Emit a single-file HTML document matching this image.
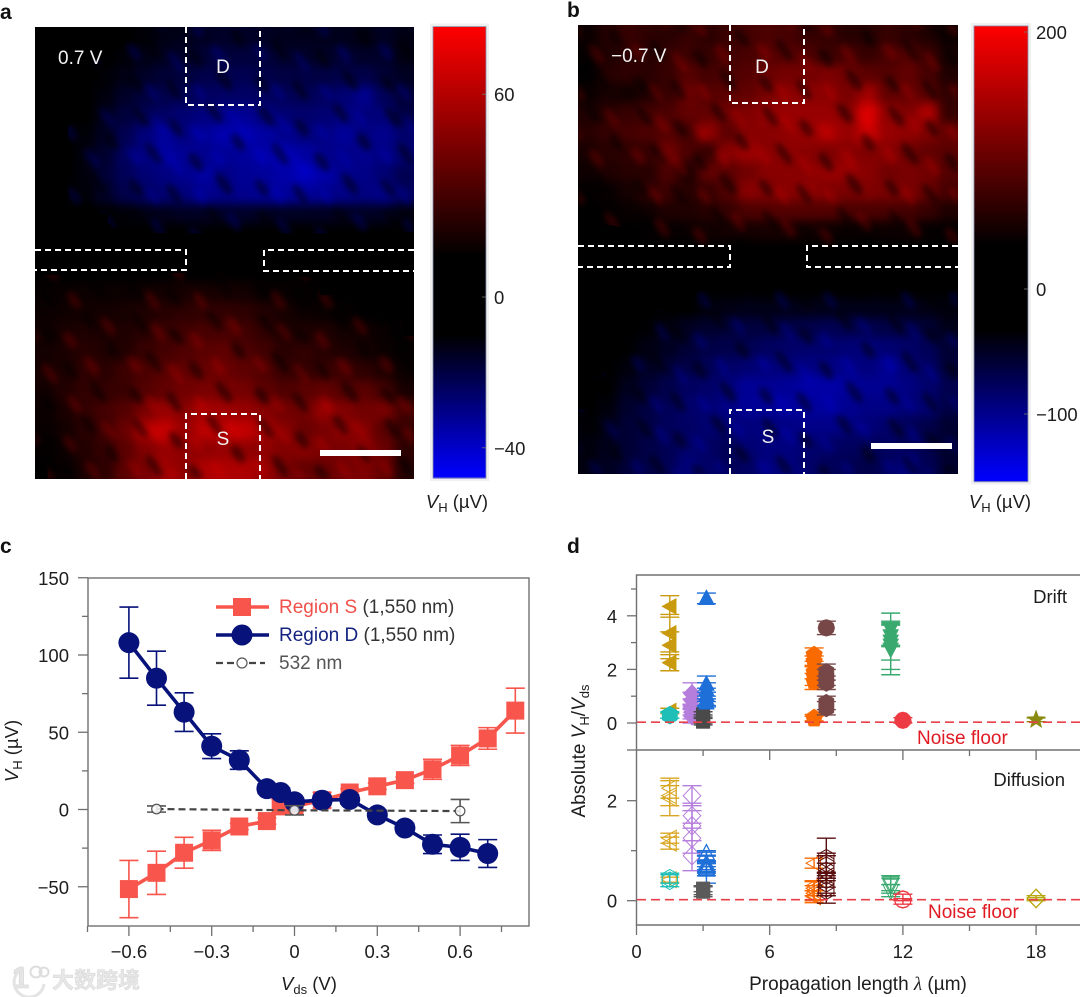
<!DOCTYPE html>
<html lang="en">
<head>
<meta charset="utf-8">
<title>Hall voltage maps and propagation length</title>
<style>
html,body{margin:0;padding:0;background:#fff;}
svg{display:block;font-family:"Liberation Sans","Noto Sans CJK SC",sans-serif;}
.tick{font-size:18.5px;fill:#1d1d1d;}
.ax{font-size:18.5px;fill:#1d1d1d;}
.letter{font-size:21px;font-weight:bold;fill:#111;}
.ov{font-size:19px;fill:#f2f2f2;}
.box{fill:none;stroke:#fff;stroke-width:2;stroke-dasharray:6 4;}
.frame{fill:none;stroke:#707070;stroke-width:1.4;}
</style>
</head>
<body>
<svg id="fig" xmlns="http://www.w3.org/2000/svg" width="1080" height="997" viewBox="0 0 1080 997">
<defs>
  <filter id="soft" x="-10%" y="-10%" width="120%" height="120%" color-interpolation-filters="sRGB"><feGaussianBlur stdDeviation="5"/></filter>
  <filter id="soft2" x="0" y="0" width="100%" height="100%" color-interpolation-filters="sRGB"><feGaussianBlur stdDeviation="3"/></filter>
  <clipPath id="clipA"><rect x="35" y="27" width="379" height="452"/></clipPath>
  <clipPath id="clipB"><rect x="578" y="25" width="380" height="449"/></clipPath>
  <pattern id="speckle" width="126" height="104" patternUnits="userSpaceOnUse">
    <g fill="#000" fill-opacity=".45">
      <ellipse cx="14" cy="12" rx="12" ry="4.5" transform="rotate(55 14 12)"/>
      <ellipse cx="50" cy="24" rx="10" ry="4.5" transform="rotate(55 50 24)"/>
      <ellipse cx="88" cy="8" rx="13" ry="4.5" transform="rotate(55 88 8)"/>
      <ellipse cx="112" cy="38" rx="10" ry="5" transform="rotate(55 112 38)"/>
      <ellipse cx="28" cy="50" rx="13" ry="4.5" transform="rotate(55 28 50)"/>
      <ellipse cx="70" cy="58" rx="11" ry="5" transform="rotate(55 70 58)"/>
      <ellipse cx="10" cy="84" rx="10" ry="4.5" transform="rotate(55 10 84)"/>
      <ellipse cx="48" cy="90" rx="12" ry="4.5" transform="rotate(55 48 90)"/>
      <ellipse cx="98" cy="80" rx="13" ry="5" transform="rotate(55 98 80)"/>
    </g>
  </pattern>
  <pattern id="glint" width="126" height="104" patternUnits="userSpaceOnUse">
    <g fill="#fff" fill-opacity=".16">
      <ellipse cx="32" cy="20" rx="11" ry="4.5" transform="rotate(55 32 20)"/>
      <ellipse cx="70" cy="28" rx="10" ry="5" transform="rotate(55 70 28)"/>
      <ellipse cx="108" cy="14" rx="11" ry="4.5" transform="rotate(55 108 14)"/>
      <ellipse cx="8" cy="52" rx="10" ry="5" transform="rotate(55 8 52)"/>
      <ellipse cx="50" cy="62" rx="12" ry="4.5" transform="rotate(55 50 62)"/>
      <ellipse cx="92" cy="54" rx="11" ry="5" transform="rotate(55 92 54)"/>
      <ellipse cx="26" cy="92" rx="11" ry="4.5" transform="rotate(55 26 92)"/>
      <ellipse cx="74" cy="92" rx="10" ry="4.5" transform="rotate(55 74 92)"/>
    </g>
  </pattern>
</defs>
<rect width="1080" height="997" fill="#fff"/>

<text class="letter" x="0" y="19">a</text>
<text class="letter" x="567" y="17">b</text>
<text class="letter" x="0" y="553">c</text>
<text class="letter" x="567" y="553">d</text>

<g id="panelA" clip-path="url(#clipA)">
  <rect x="35" y="27" width="379" height="452" fill="#000"/>
  <g id="cellsA" filter="url(#soft)"></g>
  <rect x="35" y="27" width="379" height="452" fill="url(#glint)" filter="url(#soft2)" style="mix-blend-mode:color-dodge"/>
  <rect x="35" y="27" width="379" height="452" fill="url(#speckle)" filter="url(#soft2)"/>
</g>
<g>
  <path class="box" d="M186 27V105H260V27"/>
  <path class="box" d="M186 479V414H260V479"/>
  <path class="box" d="M35 250H186V270H35"/>
  <path class="box" d="M414 250H264V271H414"/>
  <rect x="320" y="450" width="81" height="6" fill="#fff"/>
  <text class="ov" x="58" y="64">0.7 V</text>
  <text class="ov" x="223" y="73" text-anchor="middle">D</text>
  <text class="ov" x="223" y="445" text-anchor="middle">S</text>
</g>
<g id="cbA"></g>
<text class="ax" x="457" y="508" text-anchor="middle"><tspan font-style="italic">V</tspan><tspan font-size="13" dy="4">H</tspan><tspan dy="-4"> (µV)</tspan></text>

<g id="panelB" clip-path="url(#clipB)">
  <rect x="578" y="25" width="380" height="449" fill="#000"/>
  <g id="cellsB" filter="url(#soft)"></g>
  <rect x="578" y="25" width="380" height="449" fill="url(#glint)" filter="url(#soft2)" style="mix-blend-mode:color-dodge"/>
  <rect x="578" y="25" width="380" height="449" fill="url(#speckle)" filter="url(#soft2)"/>
</g>
<g>
  <path class="box" d="M730 25V103H804V25"/>
  <path class="box" d="M730 474V410H804V474"/>
  <path class="box" d="M578 246H730V267H578"/>
  <path class="box" d="M958 246H807V267H958"/>
  <rect x="871" y="443" width="81" height="6" fill="#fff"/>
  <text class="ov" x="611" y="62">−0.7 V</text>
  <text class="ov" x="762" y="73" text-anchor="middle">D</text>
  <text class="ov" x="768" y="443" text-anchor="middle">S</text>
</g>
<g id="cbB"></g>
<text class="ax" x="1000" y="508" text-anchor="middle"><tspan font-style="italic">V</tspan><tspan font-size="13" dy="4">H</tspan><tspan dy="-4"> (µV)</tspan></text>

<g id="chartC">
  <rect class="frame" x="88" y="578" width="441" height="348"/>
  <g id="cAxes"></g>
  <g id="cSeries"></g>
  <g>
    <g>
      <line x1="216" y1="607" x2="269" y2="607" stroke="#f8564c" stroke-width="3.4"/>
      <rect x="233" y="598" width="18" height="18" fill="#f8564c"/>
      <text x="279" y="613" font-size="19" fill="#f0514a">Region S <tspan fill="#333">(1,550 nm)</tspan></text>
    </g>
    <g>
      <line x1="216" y1="635" x2="269" y2="635" stroke="#07127a" stroke-width="3.4"/>
      <circle cx="242" cy="635" r="10.5" fill="#07127a"/>
      <text x="279" y="641" font-size="19" fill="#14237f">Region D <tspan fill="#333">(1,550 nm)</tspan></text>
    </g>
    <g>
      <line x1="216" y1="663" x2="265" y2="663" stroke="#444" stroke-width="2.2" stroke-dasharray="7 4"/>
      <circle cx="242" cy="663" r="5" fill="#fff" stroke="#555" stroke-width="1.2"/>
      <text x="279" y="669" font-size="19" fill="#555">532 nm</text>
    </g>
  </g>
  <text class="ax" x="309" y="990" text-anchor="middle"><tspan font-style="italic">V</tspan><tspan font-size="13" dy="4">ds</tspan><tspan dy="-4"> (V)</tspan></text>
  <text class="ax" transform="translate(18 751) rotate(-90)" text-anchor="middle"><tspan font-style="italic">V</tspan><tspan font-size="13" dy="4">H</tspan><tspan dy="-4"> (µV)</tspan></text>
</g>

<g id="chartD">
  <g id="dSeries"></g>
  <path class="frame" d="M1080 575H636.5V925H1080M636.5 750H1080"/>
  <g id="dAxes"></g>
  <text class="ax" x="1067" y="603" text-anchor="end">Drift</text>
  <text class="ax" x="1065" y="786" text-anchor="end">Diffusion</text>
  <text x="917" y="744" font-size="19" fill="#e01a22">Noise floor</text>
  <text x="928" y="918" font-size="19" fill="#e01a22">Noise floor</text>
  <text x="858" y="990" text-anchor="middle" font-size="19" fill="#1d1d1d">Propagation length <tspan font-style="italic" font-family="Liberation Serif">λ</tspan> (µm)</text>
  <text transform="translate(585 751) rotate(-90)" text-anchor="middle" font-size="19" fill="#1d1d1d">Absolute <tspan font-style="italic">V</tspan><tspan font-size="13" dy="4">H</tspan><tspan dy="-4">/</tspan><tspan font-style="italic">V</tspan><tspan font-size="13" dy="4">ds</tspan></text>
</g>

<g opacity=".95">
  <text x="12" y="988" font-size="31" font-weight="bold" fill="#e4e4e4" stroke="#d2d2d2" stroke-width=".6">1</text>
  <circle cx="36" cy="972" r="5.5" fill="none" stroke="#dcdcdc" stroke-width="2"/>
  <circle cx="44" cy="972" r="4.5" fill="none" stroke="#dcdcdc" stroke-width="2"/>
  <path d="M24 968A15 15 0 1 0 44 984" fill="none" stroke="#e2e2e2" stroke-width="3"/>
  <text x="52" y="988" font-size="22" font-weight="bold" fill="#e6e6e6" stroke="#d4d4d4" stroke-width=".5">大数跨境</text>
</g>
</svg>

<script>
/* ---------- Panel a: Hall voltage map values (µV), rows top→bottom ---------- */
const heatA = [
[0,0,0,0,0,-11,-13,-14,-15,-16,-16,-15,-14,-14,-14,-14,-13,-15,-13],
[0,0,0,-10,-11,-13,-15,-16,-18,-19,-19,-18,-17,-16,-16,-17,-16,-16,-13],
[0,0,0,-11,-13,-16,-18,-19,-21,-22,-22,-21,-20,-20,-20,-21,-21,-18,-15],
[0,0,-10,-12,-16,-19,-21,-23,-24,-25,-25,-24,-23,-23,-24,-27,-31,-23,-18],
[0,0,-10,-14,-19,-23,-25,-27,-29,-31,-32,-29,-27,-26,-27,-29,-28,-28,-20],
[0,0,-11,-15,-22,-28,-33,-29,-33,-36,-37,-34,-31,-29,-29,-33,-29,-31,-26],
[0,-10,-12,-17,-24,-29,-34,-32,-31,-32,-33,-35,-37,-34,-31,-30,-31,-29,-27],
[0,-10,-12,-18,-23,-27,-29,-31,-34,-30,-32,-33,-35,-38,-35,-31,-30,-27,-22],
[0,0,-11,-16,-21,-24,-27,-28,-31,-30,-31,-32,-33,-33,-31,-30,-29,-30,-24],
[0,0,0,-10,-11,-13,-14,-15,-15,-16,-16,-15,-15,-15,-15,-15,-15,-15,-12],
[0,0,0,0,0,0,0,0,0,0,0,0,0,0,0,0,0,0,0],
[0,0,0,0,0,0,0,0,0,0,0,0,0,0,0,0,0,0,0],
[0,0,0,0,0,0,0,0,0,0,0,0,0,0,0,0,0,0,0],
[14,14,15,15,15,16,17,18,18,18,17,14,14,13,12,12,12,12,12],
[15,16,17,17,18,20,22,24,25,25,24,21,18,15,14,13,12,12,12],
[16,18,20,19,20,23,27,29,31,31,29,25,19,20,20,17,16,14,12],
[17,19,22,21,21,27,30,33,36,37,33,29,23,25,22,20,18,15,13],
[18,20,24,23,28,32,36,38,40,40,37,33,27,25,28,28,24,20,15],
[17,21,25,26,27,34,38,42,44,45,43,37,33,36,38,34,36,30,18],
[15,19,25,30,34,44,52,49,56,54,52,48,42,42,52,46,42,44,30],
[14,17,23,28,40,60,64,52,62,62,64,56,48,40,44,50,46,36,26],
[13,15,21,26,36,46,52,50,50,52,50,50,46,48,44,44,50,40,24],
[12,14,19,24,36,44,54,50,58,58,58,52,44,38,40,42,46,38,22]
];
/* ---------- Panel b: Hall voltage map values (µV), rows top→bottom ---------- */
const heatB = [
[42,58,70,65,60,70,62,72,80,85,80,70,68,60,60,70,62,55,40],
[38,55,62,60,70,74,70,76,82,90,92,85,75,78,70,80,90,72,50],
[35,60,65,62,70,90,80,85,90,105,112,110,118,110,95,90,100,80,55],
[40,50,45,55,70,105,90,95,100,115,125,130,125,115,140,100,100,95,65],
[55,60,70,80,85,100,100,110,120,135,135,135,135,125,180,130,120,150,70],
[60,70,80,85,90,80,130,95,125,125,130,135,150,135,170,135,130,120,100],
[50,60,65,70,110,85,70,125,140,125,130,125,120,125,120,125,110,100,95],
[45,55,60,60,85,55,100,95,110,125,125,125,135,135,125,110,115,110,90],
[35,40,48,65,75,60,70,90,125,120,125,130,120,115,120,115,115,105,80],
[35,36,40,45,55,55,60,70,85,90,90,90,90,85,85,85,80,70,55],
[0,0,0,36,40,42,45,48,48,50,50,48,42,40,40,42,45,40,36],
[0,0,0,0,0,0,0,0,0,0,0,0,0,0,0,0,0,0,0],
[0,0,0,0,0,0,0,0,0,0,0,0,0,0,0,0,0,0,0],
[0,0,0,0,0,0,0,0,0,0,0,0,0,0,0,0,0,0,0],
[0,0,0,0,0,-33,-38,-42,-44,-44,-44,-44,-44,-44,-44,-44,-44,-42,-38],
[0,0,0,-36,-40,-48,-54,-60,-62,-64,-66,-68,-72,-70,-68,-66,-64,-58,-44],
[0,0,-34,-42,-48,-58,-66,-68,-72,-78,-82,-84,-84,-88,-92,-86,-82,-74,-56],
[0,0,-38,-48,-58,-66,-74,-80,-86,-90,-92,-94,-96,-96,-92,-102,-88,-80,-62],
[0,-34,-46,-58,-68,-78,-82,-92,-104,-102,-104,-112,-112,-108,-102,-102,-94,-84,-70],
[0,-38,-54,-64,-74,-84,-86,-96,-104,-104,-108,-108,-108,-102,-96,-96,-88,-88,-66],
[-36,-44,-58,-66,-76,-80,-86,-88,-92,-94,-96,-98,-98,-94,-90,-84,-76,-68,-56],
[-38,-46,-58,-66,-72,-82,-80,-74,-88,-92,-92,-88,-82,-78,-76,-78,-76,-68,-52],
[-40,-48,-60,-66,-74,-90,-82,-74,-80,-92,-92,-82,-76,-72,-68,-76,-94,-72,-56]
];
const cbATicks = [60, 0, -40];
const cbBTicks = [200, 0, -100];

/* ---------- Panel c data ---------- */
const cYTicks = [150, 100, 50, 0, -50];
const cYMinor = [125, 75, 25, -25];
const cXTicks = [-0.6, -0.3, 0, 0.3, 0.6];
const cXMinor = [-0.75, -0.45, -0.15, 0.15, 0.45, 0.75];
const sX = [-0.6,-0.5,-0.4,-0.3,-0.2,-0.1,-0.05,0,0.1,0.2,0.3,0.4,0.5,0.6,0.7,0.8];
const sY = [-51.5,-41,-28,-20,-11,-7.5,2,2,6,11,15,19,26,35,46,64];
const sErr = [18.5,14,10,6.5,2,2,5,3,5,2.5,2,2,6.5,6.5,7,14.5];
const dX = [-0.6,-0.5,-0.4,-0.3,-0.2,-0.1,-0.05,0,0.1,0.2,0.3,0.4,0.5,0.6,0.7];
const dY = [108,85,63,41,32,13.5,11,5,6,6.5,-3.5,-12,-22.5,-24.5,-28.5];
const dErr = [23,17.5,12.5,8,6,3,3,2,3,3,3,3,6,8.5,9];
const gX = [-0.5,0,0.6];
const gY = [0.3,-0.5,-1];
const gErr = [2,3,7.5];

/* ---------- Panel d data ---------- */
const dTicksX = [0, 6, 12, 18];
const dMinorX = [3, 9, 15];
const driftTicks = [4, 2, 0];
const driftMinor = [5, 3, 1];
const diffTicks = [2, 0];
const diffMinor = [1];
const noiseFloorDrift = 0.03;
const noiseFloorDiff = 0.02;

const driftGoldY = [4.35,3.35,2.9,2.25,0.45];
const driftGoldErr = [0.4,0.7,0.5,0.3,0.1];
const driftTealY = [0.3,0.28];
const driftTealErr = [0.12,0.1];
const driftPurpleY = [1.1,0.85,0.6,0.4,0.25];
const driftPurpleErr = [0.4,0.3,0.3,0.25,0.25];
const driftBlueY = [4.65,1.45,1.25,1.05,0.9,0.75];
const driftBlueErr = [0.2,0.3,0.25,0.25,0.25,0.15];
const driftGrayY = [0.32,0.15,0.05];
const driftGrayErr = [0.1,0.15,0.12];
const driftOrangeY = [2.55,2.3,1.9,1.75,1.55,0.2,0.15];
const driftOrangeErr = [0.25,0.2,0.25,0.35,0.3,0.12,0.1];
const driftBrownCircleY = [3.55];
const driftBrownCircleErr = [0.25];
const driftBrownY = [1.9,1.7,1.5,0.75,0.55];
const driftBrownErr = [0.3,0.3,0.25,0.25,0.25];
const driftGreenY = [3.5,3.25,3.05,2.9,2.75];
const driftGreenErr = [0.6,0.4,0.7,0.9,0.95];
const driftRedY = [0.1];
const driftRedErr = [0.1];
const driftOliveY = [0.12];
const driftOliveErr = [0.07];

const diffGoldY = [2.25,2.1,2.05,1.25,1.15,0.42];
const diffGoldErr = [0.2,0.2,0.35,0.1,0.12,0.05];
const diffTealY = [0.45,0.4];
const diffTealErr = [0.1,0.12];
const diffPurpleY = [2.1,1.7,1.5,1.25,0.9];
const diffPurpleErr = [0.2,0.25,0.3,0.3,0.3];
const diffBlueY = [0.95,0.94,0.74,0.7,0.68,0.65,0.62,0.62];
const diffBlueErr = [0.05,0.03,0.06,0.08,0.1,0.1,0.12,0.27];
const diffGrayY = [0.24,0.2,0.18];
const diffGrayErr = [0.06,0.08,0.1];
const diffOrangeY = [0.75,0.3,0.25,0.2,0.15,0.1,0.08];
const diffOrangeErr = [0.1,0.1,0.15,0.18,0.15,0.1,0.12];
const diffDarkRedY = [0.85,0.75,0.7,0.6,0.5,0.42,0.35,0.25,0.2];
const diffDarkRedErr = [0.4,0.2,0.2,0.15,0.4,0.15,0.2,0.15,0.25];
const diffGreenY = [0.35,0.3,0.2];
const diffGreenErr = [0.15,0.15,0.12];
const diffRedY = [0.03,0.02];
const diffRedErr = [0.1,0.02];
const diffOliveY = [0.05,0.04];
const diffOliveErr = [0.05,0.02];

const NS = 'http://www.w3.org/2000/svg';
function el(parent, tag, attrs, txt){
  const e = document.createElementNS(NS, tag);
  for (const k in attrs) e.setAttribute(k, attrs[k]);
  if (txt !== undefined) e.textContent = txt;
  parent.appendChild(e);
  return e;
}
function fmt(v, d){ const s = Math.abs(v).toFixed(d); return (v < 0 ? '\u2212' : '') + s; }

/* ---------- heatmaps & colorbars ---------- */
function colorMap(v, hi0, hi1, lo0, lo1){
  if (v > hi0) return 'rgb(' + Math.round(255*Math.min(1,(v-hi0)/(hi1-hi0))) + ',0,0)';
  if (v < lo0) return 'rgb(0,0,' + Math.round(255*Math.min(1,(lo0-v)/(lo0-lo1))) + ')';
  return '#000';
}
const colorA = v => colorMap(v, 12, 80, -10, -48);
const colorB = v => colorMap(v, 34, 205, -33, -154);

function drawHeat(id, grid, x0, y0, w, h, color, label){
  const g = document.getElementById(id);
  const rows = grid.length, cols = grid[0].length;
  const cw = w/cols, ch = h/rows;
  grid.forEach((row, j) => row.forEach((v, i) => {
    const pad = 24;
    const x = x0 + i*cw - (i === 0 ? pad : 0);
    const y = y0 + j*ch - (j === 0 ? pad : 0);
    const rw = cw + 0.5 + (i === 0 ? pad : 0) + (i === cols-1 ? pad : 0);
    const rh = ch + 0.5 + (j === 0 ? pad : 0) + (j === rows-1 ? pad : 0);
    const c = el(g, 'rect', {x: x, y: y, width: rw, height: rh, fill: color(v)});
    
    
  }));
}
drawHeat('cellsA', heatA, 35, 27, 379, 452, colorA, 'heatmap-a-cell');
drawHeat('cellsB', heatB, 578, 25, 380, 449, colorB, 'heatmap-b-cell');

const cbAxisA = v => 297 - v*(v >= 0 ? 3.38 : 3.77);
const cbAxisB = v => 289 - v*(v >= 0 ? 1.285 : 1.25);

function drawColorbar(id, x, w, vTop, vBot, axis, color, ticks, labelX, tag){
  const g = document.getElementById(id);
  const yT = axis(vTop), yB = axis(vBot);
  const halo = el(g, 'rect', {x: x-3, y: yT-3, width: w+6, height: yB-yT+6, fill: '#f0f0f0'});
  
  
  const steps = 230;
  for (let k = 0; k < steps; k++){
    const v0 = vTop + (vBot-vTop)*k/steps, v1 = vTop + (vBot-vTop)*(k+1)/steps;
    const r = el(g, 'rect', {x: x, y: axis(v0), width: w, height: axis(v1)-axis(v0)+0.6, fill: color((v0+v1)/2)});
    
    
  }
  const border = el(g, 'rect', {x: x, y: yT, width: w, height: yB-yT, fill: 'none', stroke: '#8a90aa', 'stroke-width': 0.8});
  
  
  ticks.forEach(t => {
    const y = axis(t);
    const tk = el(g, 'line', {x1: x+w-4, x2: x+w, y1: y, y2: y, stroke: '#777', 'stroke-width': 0.8});
    
    
    const lb = el(g, 'text', {x: labelX, y: y+7, 'class': 'tick'}, fmt(t, 0));
    
    
  });
}
drawColorbar('cbA', 433, 53, 80, -48, cbAxisA, colorA, cbATicks, 494, 'colorbar-a');
drawColorbar('cbB', 974, 54, 204.7, -154, cbAxisB, colorB, cbBTicks, 1036, 'colorbar-b');

/* ---------- chart c ---------- */
const cx = v => 294.5 + v*276;
const cy = v => 809.5 - v*1.545;
(function(){
  const ax = document.getElementById('cAxes');
  const tick = (a, name) => {
    const l = el(ax, 'line', Object.assign({stroke: '#707070', 'stroke-width': 1.3}, a));
    
    
  };
  cYTicks.forEach(v => {
    tick({x1: 78, x2: 88, y1: cy(v), y2: cy(v)}, 'y-tick-c');
    const t = el(ax, 'text', {x: 69, y: cy(v)+7, 'text-anchor': 'end', 'class': 'tick'}, fmt(v, 0));
    
    
  });
  cYMinor.forEach(v => tick({x1: 82, x2: 88, y1: cy(v), y2: cy(v)}, 'y-minor-tick-c'));
  cXTicks.forEach(v => {
    tick({x1: cx(v), x2: cx(v), y1: 926, y2: 936}, 'x-tick-c');
    const t = el(ax, 'text', {x: cx(v), y: 958, 'text-anchor': 'middle', 'class': 'tick'}, v === 0 ? '0' : fmt(v, 1));
    
    
  });
  cXMinor.forEach(v => tick({x1: cx(v), x2: cx(v), y1: 926, y2: 932}, 'x-minor-tick-c'));

  const ser = document.getElementById('cSeries');
  function series(xs, ys, errs, color, kind, name){
    const g = el(ser, 'g', {});
    
    
    xs.forEach((x, i) => {
      const px = cx(x), up = cy(ys[i]+errs[i]), dn = cy(ys[i]-errs[i]);
      const e = el(g, 'path', {d: `M${px-9.5} ${up}H${px+9.5}M${px} ${up}V${dn}M${px-9.5} ${dn}H${px+9.5}`, fill: 'none', stroke: kind === 'open' ? '#555' : color, 'stroke-width': 1.6});
      
      
    });
    const line = el(g, 'polyline', {points: xs.map((x, i) => cx(x) + ',' + cy(ys[i])).join(' '), fill: 'none', stroke: color, 'stroke-width': kind === 'open' ? 2.2 : 3.6, 'stroke-dasharray': kind === 'open' ? '7 4' : 'none'});
    
    
    xs.forEach((x, i) => {
      const px = cx(x), py = cy(ys[i]);
      let m;
      if (kind === 'square') m = el(g, 'rect', {x: px-9, y: py-9, width: 18, height: 18, fill: color});
      else if (kind === 'circle') m = el(g, 'circle', {cx: px, cy: py, r: 10.5, fill: color});
      else m = el(g, 'circle', {cx: px, cy: py, r: 4.8, fill: '#fff', 'fill-opacity': .85, stroke: '#555', 'stroke-width': 1.2});
      
      
    });
  }
  series(sX, sY, sErr, '#f8564c', 'square', 'region-s');
  series(dX, dY, dErr, '#07127a', 'circle', 'region-d');
  series(gX, gY, gErr, '#444444', 'open', '532-nm');
})();

/* ---------- chart d ---------- */
const dx = v => 636.5 + v*22.2;
const dyTop = v => 723 - v*26.8;
const dyBot = v => 900.7 - v*50;

function poly(px, py, r, pts){
  return pts.map(p => (px + p[0]*r).toFixed(2) + ',' + (py + p[1]*r).toFixed(2)).join(' ');
}
function regular(n, rot){
  const a = [];
  for (let i = 0; i < n; i++){
    const t = rot + i*2*Math.PI/n;
    a.push([Math.cos(t), Math.sin(t)]);
  }
  return a;
}
const shapes = {
  left: [[-1,0],[0.8,-1],[0.8,1]],
  up: [[0,-1.1],[1,0.8],[-1,0.8]],
  down: [[0,1.1],[1,-0.8],[-1,-0.8]],
  diamond: [[0,-1.15],[1.1,0],[0,1.15],[-1.1,0]],
  square: [[-0.85,-0.85],[0.85,-0.85],[0.85,0.85],[-0.85,0.85]],
  pent: regular(5, -Math.PI/2).map(p => [p[0]*1.1, p[1]*1.1]),
  hex: regular(6, -Math.PI/2).map(p => [p[0]*1.1, p[1]*1.1]),
  octo: regular(12, 0).map(p => [p[0]*1.05, p[1]*1.05]),
  star: regular(5, -Math.PI/2).reduce((acc, p, i) => {
    acc.push([p[0]*1.2, p[1]*1.2]);
    const t = -Math.PI/2 + Math.PI/5 + i*2*Math.PI/5;
    acc.push([Math.cos(t)*0.5, Math.sin(t)*0.5]);
    return acc;
  }, [])
};

function drawD(x, ys, errs, shape, color, filled, axis, name){
  const root = document.getElementById('dSeries');
  const g = el(root, 'g', {});
  
  
  const px = dx(x);
  ys.forEach((y, i) => {
    const up = axis(y+errs[i]), dn = axis(y-errs[i]), py = axis(y);
    const e = el(g, 'path', {d: `M${px-9.5} ${up}H${px+9.5}M${px} ${up}V${dn}M${px-9.5} ${dn}H${px+9.5}`, fill: 'none', stroke: color, 'stroke-width': 1.4});
    
    
    const m = el(g, 'polygon', {points: poly(px, py, 8, shapes[shape]), fill: filled ? color : 'none', stroke: color, 'stroke-width': filled ? 0.5 : 1});
    
    
  });
}
drawD(1.5, driftGoldY, driftGoldErr, 'left', '#c99a0e', true, dyTop, 'drift-gold');
drawD(1.5, driftTealY, driftTealErr, 'hex', '#1fbfb8', true, dyTop, 'drift-teal');
drawD(2.5, driftPurpleY, driftPurpleErr, 'diamond', '#b57edc', true, dyTop, 'drift-purple');
drawD(3.0, driftGrayY, driftGrayErr, 'square', '#4a4a4a', true, dyTop, 'drift-gray');
drawD(3.15, driftBlueY, driftBlueErr, 'up', '#1f6fd8', true, dyTop, 'drift-blue');
drawD(8.0, driftOrangeY, driftOrangeErr, 'pent', '#f96a00', true, dyTop, 'drift-orange');
drawD(8.55, driftBrownCircleY, driftBrownCircleErr, 'octo', '#774747', true, dyTop, 'drift-brown-circle');
drawD(8.55, driftBrownY, driftBrownErr, 'hex', '#774747', true, dyTop, 'drift-brown');
drawD(11.45, driftGreenY, driftGreenErr, 'down', '#3aa96f', true, dyTop, 'drift-green');
drawD(12.0, driftRedY, driftRedErr, 'octo', '#ee3a43', true, dyTop, 'drift-red');
drawD(18.0, driftOliveY, driftOliveErr, 'star', '#8a8a10', true, dyTop, 'drift-olive');

drawD(1.5, diffGoldY, diffGoldErr, 'left', '#d9a520', false, dyBot, 'diffusion-gold');
drawD(1.5, diffTealY, diffTealErr, 'hex', '#1fbfb8', false, dyBot, 'diffusion-teal');
drawD(2.5, diffPurpleY, diffPurpleErr, 'diamond', '#b57edc', false, dyBot, 'diffusion-purple');
drawD(3.15, diffBlueY, diffBlueErr, 'up', '#1f6fd8', false, dyBot, 'diffusion-blue');
drawD(3.0, diffGrayY, diffGrayErr, 'square', '#5a5a5a', true, dyBot, 'diffusion-gray');
drawD(8.0, diffOrangeY, diffOrangeErr, 'left', '#f96a00', false, dyBot, 'diffusion-orange');
drawD(8.55, diffDarkRedY, diffDarkRedErr, 'hex', '#5a0f0f', false, dyBot, 'diffusion-dark-red');
drawD(11.45, diffGreenY, diffGreenErr, 'down', '#3aa96f', false, dyBot, 'diffusion-green');
drawD(12.0, diffRedY, diffRedErr, 'octo', '#ee3a43', false, dyBot, 'diffusion-red');
drawD(18.0, diffOliveY, diffOliveErr, 'diamond', '#b8a810', false, dyBot, 'diffusion-olive');

(function(){
  const ax = document.getElementById('dAxes');
  const tick = (a, name) => {
    const l = el(ax, 'line', Object.assign({stroke: '#707070', 'stroke-width': 1.3}, a));
    
    
  };
  const floorTop = el(ax, 'line', {x1: 637, x2: 1080, y1: dyTop(noiseFloorDrift), y2: dyTop(noiseFloorDrift), stroke: '#e8404a', 'stroke-width': 1.6, 'stroke-dasharray': '9 5'});
  
  
  const floorBot = el(ax, 'line', {x1: 637, x2: 1080, y1: dyBot(noiseFloorDiff), y2: dyBot(noiseFloorDiff), stroke: '#e8404a', 'stroke-width': 1.6, 'stroke-dasharray': '9 5'});
  
  

  driftTicks.forEach(v => {
    tick({x1: 627, x2: 636.5, y1: dyTop(v), y2: dyTop(v)}, 'y-tick-drift');
    const t = el(ax, 'text', {x: 612, y: dyTop(v)+7, 'text-anchor': 'middle', 'class': 'tick'}, fmt(v, 0));
    
    
  });
  driftMinor.forEach(v => tick({x1: 631, x2: 636.5, y1: dyTop(v), y2: dyTop(v)}, 'y-minor-tick-drift'));
  tick({x1: 627, x2: 636.5, y1: 750, y2: 750}, 'panel-divider-tick');
  diffTicks.forEach(v => {
    tick({x1: 627, x2: 636.5, y1: dyBot(v), y2: dyBot(v)}, 'y-tick-diffusion');
    const t = el(ax, 'text', {x: 612, y: dyBot(v)+7, 'text-anchor': 'middle', 'class': 'tick'}, fmt(v, 0));
    
    
  });
  diffMinor.forEach(v => tick({x1: 631, x2: 636.5, y1: dyBot(v), y2: dyBot(v)}, 'y-minor-tick-diffusion'));

  dTicksX.forEach(v => {
    tick({x1: dx(v), x2: dx(v), y1: 925, y2: 935}, 'x-tick-d');
    if (v > 0) tick({x1: dx(v), x2: dx(v), y1: 750, y2: 760}, 'x-tick-divider');
    const t = el(ax, 'text', {x: dx(v), y: 958, 'text-anchor': 'middle', 'class': 'tick'}, String(v));
    
    
  });
  dMinorX.forEach(v => {
    tick({x1: dx(v), x2: dx(v), y1: 925, y2: 931}, 'x-minor-tick-d');
    tick({x1: dx(v), x2: dx(v), y1: 750, y2: 756}, 'x-minor-tick-divider');
  });
})();
</script>
</body>
</html>
